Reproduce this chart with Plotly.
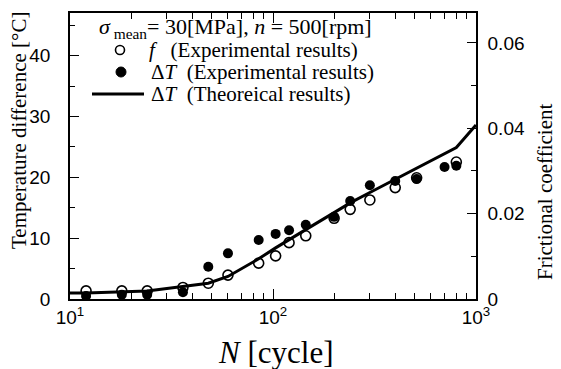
import plotly.graph_objects as go

# ---- data ----
N_exp = [12, 18, 24, 36, 48, 60, 85, 103, 120, 145, 200, 240, 300, 400, 510, 700, 800]
dT_exp = [0.5, 0.7, 0.7, 1.1, 5.3, 7.5, 9.7, 10.7, 11.3, 12.2, 13.5, 16.1, 18.7, 19.4, 19.7, 21.7, 21.9]

N_f = [12, 18, 24, 36, 48, 60, 85, 103, 120, 145, 200, 240, 300, 400, 510, 800]
f_exp = [0.0019, 0.0019, 0.0019, 0.0027, 0.0037, 0.0056, 0.0084, 0.0101, 0.0132, 0.0148,
         0.0189, 0.0210, 0.0232, 0.0261, 0.0284, 0.0321]

N_th = [10, 12, 24, 36, 48, 60, 85, 103, 120, 145, 200, 240, 300, 400, 510, 700, 800, 1000]
dT_th = [1.0, 1.0, 1.3, 2.0, 2.6, 3.7, 6.6, 8.4, 9.7, 11.4, 14.2, 15.8, 17.5, 19.7, 21.5, 23.9, 24.9, 28.6]

x_tickvals = [10, 100, 1000]
x_ticktext = ["10<sup>1</sup>", "10<sup>2</sup>", "10<sup>3</sup>"]
x_minor = [20, 30, 40, 50, 60, 70, 80, 90, 200, 300, 400, 500, 600, 700, 800, 900]

legend_title = "<i>σ</i><sub> mean</sub>= 30[MPa], <i>n</i> = 500[rpm]"
legend_names = [
    "<i>f</i>\u00a0\u00a0 (Experimental results)",
    "Δ<i>T</i>\u00a0 (Experimental results)",
    "Δ<i>T</i>\u00a0 (Theoreical results)",
]

SERIF = "Liberation Serif, Times New Roman, serif"
SANS = "Liberation Sans, Arial, sans-serif"

# The page body has an 8px default margin, so the figure is 8px smaller than
# the window and its margins are reduced accordingly.
OFF = 8
W, H = 561 - OFF, 369 - OFF
X0, X1, Y0, Y1 = 70, 476, 13, 299          # plot area in window pixels
L, T = X0 - OFF, Y0 - OFF
R, B = W - (X1 - OFF), H - (Y1 - OFF)


def px(x):
    return (x - X0) / (X1 - X0)


def py(y):
    return (Y1 - y) / (Y1 - Y0)


fig = go.Figure()
fig.add_trace(go.Scatter(
    x=N_f, y=f_exp, yaxis="y2", mode="markers", name=legend_names[0],
    marker=dict(symbol="circle-open", size=10, color="black", line=dict(width=1.6, color="black")),
))
fig.add_trace(go.Scatter(
    x=N_exp, y=dT_exp, mode="markers", name=legend_names[1],
    marker=dict(symbol="circle", size=10, color="black"),
))
fig.add_trace(go.Scatter(
    x=N_th, y=dT_th, mode="lines", name=legend_names[2],
    line=dict(color="black", width=3),
))

axis_common = dict(
    showline=True, linecolor="black", linewidth=1.5,
    ticks="inside", tickcolor="black", tickwidth=1.2,
    showgrid=False, zeroline=False,
    tickfont=dict(family=SANS, size=19, color="black"),
)

legend_font = dict(family=SERIF, size=21, color="black")

annotations = [
    dict(text=legend_title, x=px(97), y=py(28), xanchor="left", font=dict(family=SERIF, size=22, color="black")),
    dict(text=legend_names[0], x=px(147), y=py(50), xanchor="left", font=legend_font),
    dict(text=legend_names[1], x=px(149), y=py(72), xanchor="left", font=legend_font),
    dict(text=legend_names[2], x=px(149), y=py(94), xanchor="left", font=legend_font),
    dict(text="<i>N</i> [cycle]", x=px(275), y=py(352), xanchor="center",
         font=dict(family=SERIF, size=31, color="black")),
    dict(text="Temperature difference [°C]", x=px(19), y=py(131), xanchor="center",
         textangle=-90, font=dict(family=SERIF, size=21, color="black")),
    dict(text="Frictional coefficient", x=px(545), y=py(192), xanchor="center",
         textangle=-90, font=dict(family=SERIF, size=21, color="black")),
]
for a in annotations:
    a.update(xref="paper", yref="paper", yanchor="middle", showarrow=False)

shapes = [
    # legend keys
    dict(type="circle", xref="paper", yref="paper", xsizemode="pixel", ysizemode="pixel",
         xanchor=px(120), yanchor=py(50), x0=-4.5, x1=4.5, y0=-4.5, y1=4.5,
         line=dict(color="black", width=1.6), fillcolor="rgba(0,0,0,0)"),
    dict(type="circle", xref="paper", yref="paper", xsizemode="pixel", ysizemode="pixel",
         xanchor=px(121), yanchor=py(72), x0=-5, x1=5, y0=-5, y1=5,
         line=dict(color="black", width=1), fillcolor="black"),
    dict(type="line", xref="paper", yref="paper", x0=px(92), x1=px(144), y0=py(94), y1=py(94),
         line=dict(color="black", width=3)),
]

fig.update_layout(
    width=W, height=H,
    margin=dict(l=L, r=R, t=T, b=B, autoexpand=False),
    paper_bgcolor="white", plot_bgcolor="white",
    showlegend=False,
    xaxis=dict(
        type="log", range=[1, 3], tickmode="array",
        tickvals=x_tickvals, ticktext=x_ticktext, ticklen=10,
        mirror="ticks",
        minor=dict(tickmode="array", tickvals=x_minor, ticks="inside", ticklen=6,
                   tickcolor="black", tickwidth=1.2, showgrid=False),
        **axis_common,
    ),
    yaxis=dict(
        range=[0, 47], tickmode="array", tickvals=[0, 10, 20, 30, 40], ticklen=9,
        minor=dict(dtick=5, ticks="inside", ticklen=5, tickcolor="black", tickwidth=1.2, showgrid=False),
        ticklabelstandoff=14,
        **axis_common,
    ),
    yaxis2=dict(
        overlaying="y", side="right", range=[0, 0.067], dtick=0.02, tick0=0, ticklen=9,
        minor=dict(dtick=0.01, ticks="inside", ticklen=5, tickcolor="black", tickwidth=1.2, showgrid=False),
        ticklabelstandoff=6,
        **axis_common,
    ),
    annotations=annotations,
    shapes=shapes,
)

fig.write_html("out.html")
